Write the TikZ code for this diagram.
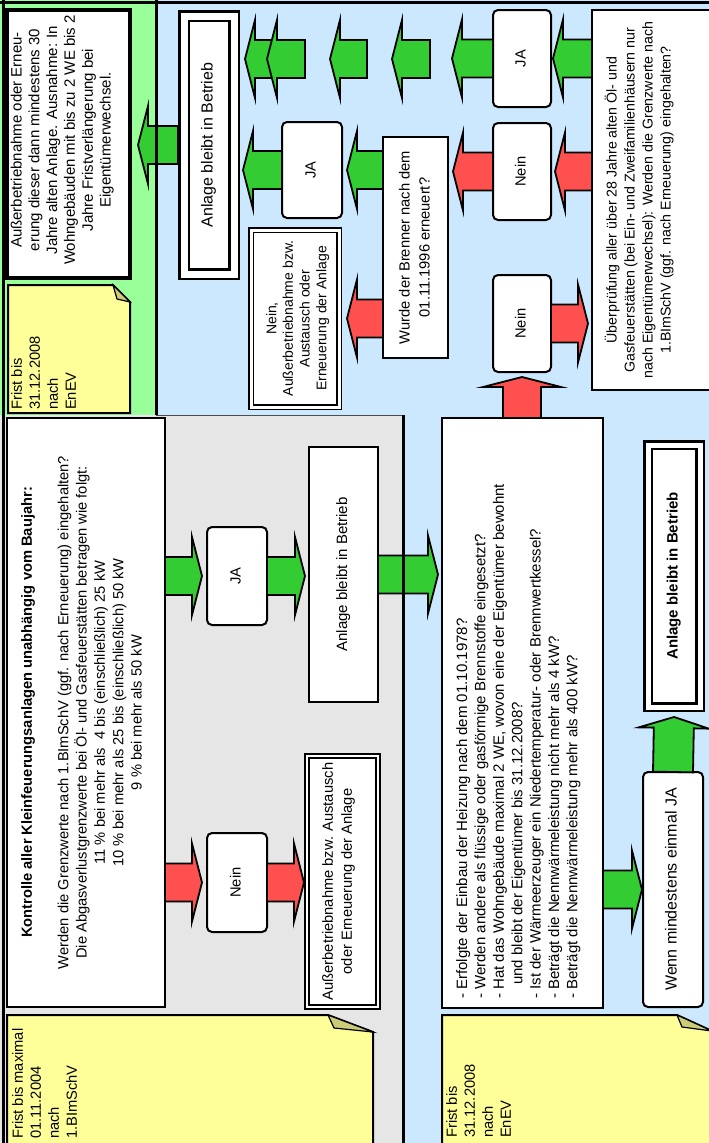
\documentclass[tikz,border=0pt]{standalone}
\usepackage{fontspec}
\setmainfont{Liberation Sans}
\usepackage{graphicx}
\usetikzlibrary{calc}
\definecolor{bgblue}{RGB}{204,232,255}
\definecolor{bggreen}{RGB}{153,255,153}
\definecolor{bggray}{RGB}{230,230,230}
\definecolor{noteyellow}{RGB}{255,255,153}
\definecolor{foldcol}{RGB}{204,204,120}
\definecolor{arrgreen}{RGB}{51,204,51}
\definecolor{arrred}{RGB}{255,80,80}
\newcommand{\fs}[2]{\fontsize{#1}{#2}\selectfont}
\newcommand{\rt}[2][c]{\rotatebox{90}{\begin{tabular}{@{}#1@{}}#2\end{tabular}}}
\newcommand{\basw}{19pt}
\newcommand{\bahw}{39pt}
\newcommand{\bahl}{10pt}
\newcommand{\barrow}[3]{%
  \path #2 coordinate (ba-s) #3 coordinate (ba-t);
  \path ($(ba-t)!\bahl!(ba-s)$) coordinate (ba-h);
  \draw[arrline,fill=#1] ($(ba-s)!\basw!90:(ba-t)$) -- ($(ba-h)!\basw!90:(ba-t)$)
    -- ($(ba-h)!\bahw!90:(ba-t)$) -- (ba-t) -- ($(ba-h)!\bahw!-90:(ba-t)$)
    -- ($(ba-h)!\basw!-90:(ba-t)$) -- ($(ba-s)!\basw!-90:(ba-t)$) -- cycle;}
\tikzset{
  span/.style n args={4}{at={({(#1+#3)/2},{(#2+#4)/2})},
    minimum width={(#3-#1)*1pt}, minimum height={(#4-#2)*1pt}},
  box/.style={draw=black, fill=white, line width=2.5pt, inner sep=0pt, outer sep=0pt,
    font=\fs{14.7}{18.3}},
  rbox/.style={box, line width=2pt, rounded corners=5pt},
  dbox/.style={box, double=white},
  notefill/.style={fill=noteyellow, draw=black, line width=2pt, line join=miter},
  foldfill/.style={fill=foldcol, draw=black, line width=1.2pt},
  notetext/.style={inner sep=0pt, anchor=south west, font=\fs{14.7}{18}},
  arrline/.style={draw=black, line width=1.8pt, line join=miter},
  border/.style={draw=black, line width=3pt}
}
\begin{document}
\begin{tikzpicture}[x=1pt,y=-1pt]
\useasboundingbox (0,0) rectangle (709,1143);
\clip (0,0) rectangle (709,1143);
% backgrounds
\fill[bgblue] (0,0) rectangle (709,1143);
\fill[bggreen] (0,0) rectangle (156,415);
\fill[bggray] (0,415) rectangle (403,1143);

% notes
\filldraw[notefill] (8,285) -- (113,285) -- (130,302) -- (130,413) -- (8,413) -- cycle;
\filldraw[foldfill] (113,285) -- (130,302) -- (117,299) -- cycle;
\node[notetext] (n1t) at (9,410) {\rt[l]{Frist bis\\31.12.2008\\nach\\EnEV}};

\filldraw[notefill] (7,1015) -- (328,1015) -- (373,1032) -- (373,1150) -- (7,1150) -- cycle;
\filldraw[foldfill] (328,1015) -- (373,1032) -- (334,1028) -- cycle;
\node[notetext] (n2t) at (10,1139) {\rt[l]{Frist bis maximal\\01.11.2004\\nach\\1.BImSchV}};

\filldraw[notefill] (442,1015) -- (677,1015) -- (712,1031) -- (712,1150) -- (442,1150) -- cycle;
\filldraw[foldfill] (677,1015) -- (712,1031) -- (682,1027) -- cycle;
\node[notetext] (n3t) at (444,1138) {\rt[l]{Frist bis\\31.12.2008\\nach\\EnEV}};

% boxes, top part
\node[box, line width=4pt, span={7}{10}{130}{278}, font=\fs{15}{17.8}] (aus1)
  {\raisebox{4pt}[\height][\depth]{\rt{Außerbetriebnahme oder Erneu-\\erung dieser dann mindestens 30\\Jahre alten Anlage. Ausnahme: In\\Wohngebäuden mit bis zu 2 WE bis 2\\Jahre Fristverlängerung bei\\Eigentümerwechsel.}}\hspace*{12pt}};
\node[dbox, line width=2.5pt, double distance=7pt, span={184}{16}{234}{274}, font=\fs{16}{18}] (anl1)
  {\rt{Anlage bleibt in Betrieb}};
\node[dbox, line width=1.5pt, double distance=3pt, span={251}{230}{339}{407}, font=\fs{14}{16.7}] (naus)
  {\hspace*{6pt}\rt{Nein,\\Außerbetriebnahme bzw.\\Austausch oder\\Erneuerung der Anlage}};
\node[rbox, span={282}{122}{342}{218}] (ja2) {\rt{JA}};
\node[box, span={383}{137}{448}{358}, font=\fs{14.7}{20}] (wurde)
  {\rt{Wurde der Brenner nach dem\\01.11.1996 erneuert?}};
\node[rbox, span={493}{10}{551}{107}] (ja1) {\rt{JA}};
\node[rbox, span={493}{123}{551}{220}] (nein1) {\rt{Nein}};
\node[rbox, span={493}{275}{551}{372}] (nein2) {\rt{Nein}};
\node[box, line width=2pt, span={592}{10}{730}{390}, font=\fs{14.2}{18}] (ueb)
  {\rt{Überprüfung aller über 28 Jahre alten Öl- und\\Gasfeuerstätten (bei Ein- und Zweifamilienhäusern nur\\nach Eigentümerwechsel): Werden die Grenzwerte nach\\1.BImSchV (ggf. nach Erneuerung) eingehalten?}\hspace*{42pt}};

% boxes, lower part
\node[box, span={7}{418}{165}{1007}] (kont)
  {\rt{\textbf{Kontrolle aller Kleinfeuerungsanlagen unabhängig vom Baujahr:}\\ \\
  Werden die Grenzwerte nach 1.BImSchV (ggf. nach Erneuerung) eingehalten?\\
  Die Abgasverlustgrenzwerte bei Öl- und Gasfeuerstätten betragen wie folgt:\\
  11 \% bei mehr als\ \ 4 bis (einschließlich) 25 kW\\
  10 \% bei mehr als 25 bis (einschließlich) 50 kW\\
  9 \% bei mehr als 50 kW}\hspace*{6pt}};
\node[rbox, span={207}{527}{267}{625}] (ja3) {\rt{JA}};
\node[box, span={309}{447}{378}{702}, font=\fs{15}{18}] (anl2) {\rt{Anlage bleibt in Betrieb}};
\node[rbox, span={207}{833}{267}{932}] (nein3) {\rt{Nein}};
\node[dbox, line width=2pt, double distance=2.5pt, span={307}{756}{378}{1007}, font=\fs{14.7}{19}] (aus2)
  {\rt{Außerbetriebnahme bzw. Austausch\\oder Erneuerung der Anlage}\hspace*{8pt}};
\node[box, span={442}{418}{603}{1008}] (erf) {};
\node[inner sep=0pt, anchor=south west, font=\fs{15}{18.4}] (erft) at (454,999)
  {\rt[l]{- Erfolgte der Einbau der Heizung nach dem 01.10.1978?\\
  - Werden andere als flüssige oder gasförmige Brennstoffe eingesetzt?\\
  - Hat das Wohngebäude maximal 2 WE, wovon eine der Eigentümer bewohnt\\
  \hspace*{14pt}und bleibt der Eigentümer bis 31.12.2008?\\
  - Ist der Wärmeerzeuger ein Niedertemperatur- oder Brennwertkessel?\\
  - Beträgt die Nennwärmeleistung nicht mehr als 4 kW?\\
  - Beträgt die Nennwärmeleistung mehr als 400 kW?}};
\node[rbox, span={643}{772}{703}{1007}, font=\fs{16}{18}] (wenn) {\rt{Wenn mindestens einmal JA}};
\node[dbox, line width=2.5pt, double distance=5pt, span={648}{445}{700}{707}, font=\fs{15}{18}\bfseries] (anl3)
  {\rt{Anlage bleibt in Betrieb}};

% arrows, top part
\barrow{arrgreen}{(ueb.west |- ja1)}{($(ja1.east)+(2,0)$)}
\barrow{arrred}{(ueb.west |- nein1)}{($(nein1.east)+(4,0)$)}
\barrow{arrred}{(nein2.east)}{($(ueb.west |- nein2)+(-4,0)$)}
\barrow{arrred}{(erf.north -| nein2)}{($(nein2.south)+(0,5)$)}
\barrow{arrgreen}{(ja1.west)}{($(ja1.west)+(-41,0)$)}
\coordinate (c1) at (430,59); \coordinate (c2) at (392,59);
\coordinate (c3) at (367,59); \coordinate (c4) at (330,59);
\coordinate (c5) at (280,59); \coordinate (c6) at (245,59);
\coordinate (c7) at (305,59); \coordinate (c8) at (267,59);
\barrow{arrgreen}{(c1)}{(c2)}
\barrow{arrgreen}{(c3)}{(c4)}
\barrow{arrgreen}{(c5)}{(c6)}
\barrow{arrgreen}{(c7)}{(c8)}
\barrow{arrred}{(nein1.west)}{($(wurde.east |- nein1)+(5,0)$)}
\barrow{arrgreen}{(wurde.west |- ja2)}{($(ja2.east)+(5,0)$)}
\barrow{arrred}{(wurde.west |- naus)}{($(naus.east)+(8,0)$)}
\barrow{arrgreen}{(ja2.west)}{($(anl1.east |- ja2)+(9,0)$)}
\barrow{arrgreen}{($(anl1.west)+(-6,0)$)}{($(anl1.west)+(-46,0)$)}

% arrows, lower part
\barrow{arrgreen}{(kont.east |- ja3)}{($(ja3.west)+(-5,0)$)}
\barrow{arrgreen}{(ja3.east)}{($(anl2.west |- ja3)+(-4,0)$)}
\barrow{arrgreen}{(anl2.east)}{($(erf.west |- anl2)+(-4,0)$)}
\barrow{arrred}{(kont.east |- nein3)}{($(nein3.west)+(-5,0)$)}
\barrow{arrred}{(nein3.east)}{($(aus2.west |- nein3)+(-3,0)$)}
\barrow{arrgreen}{(erf.east |- wenn)}{($(wenn.west)+(-1,0)$)}
\renewcommand{\basw}{20pt}\renewcommand{\bahw}{35pt}\renewcommand{\bahl}{11pt}
\barrow{arrgreen}{(wenn.north)}{($(anl3.south)+(0,10)$)}

% region borders
\draw[border] (0,2.5) -- (709,2.5);
\draw[border] (3,0) -- (3,1143);
\draw[border] (156,0) -- (156,415);
\draw[draw=black!70, line width=1pt] (156,415) -- (403,415);
\draw[border] (403,415) -- (403,1143);
\end{tikzpicture}
\end{document}
